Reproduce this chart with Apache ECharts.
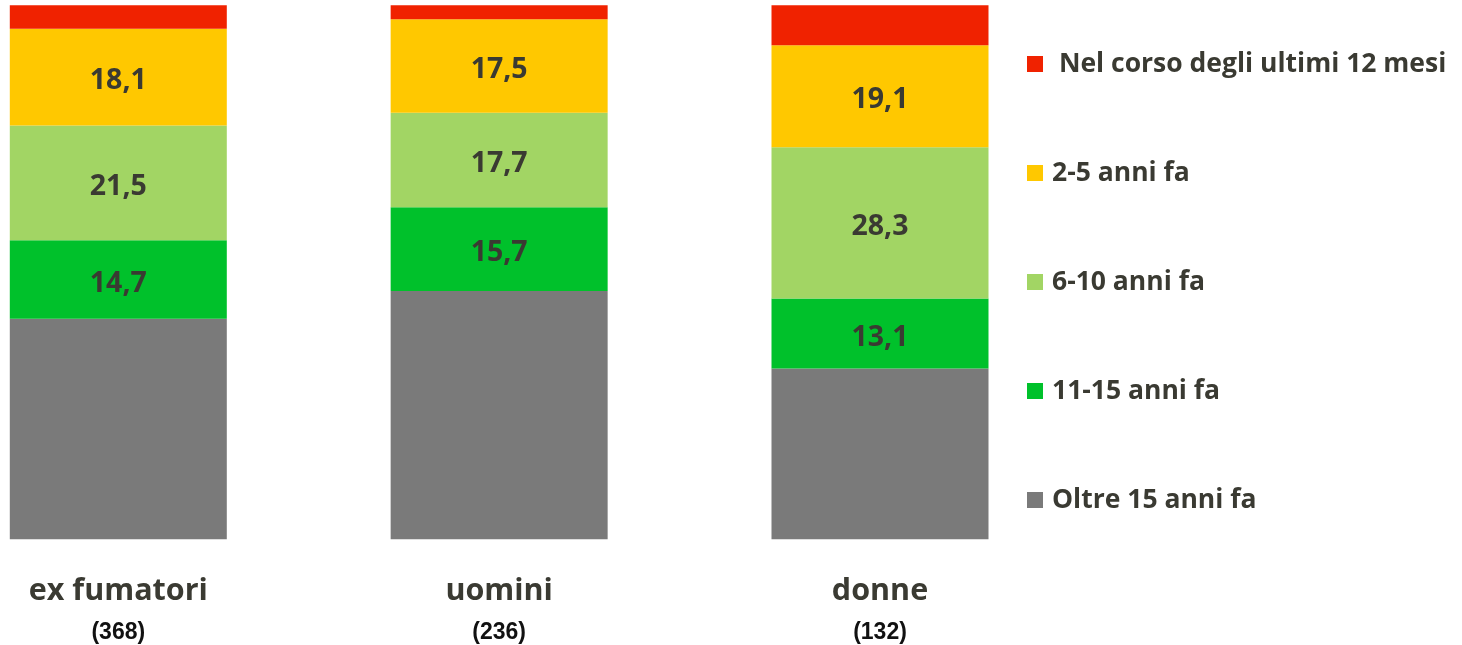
<!DOCTYPE html>
<html>
<head>
<meta charset="utf-8">
<script src="https://cdn.jsdelivr.net/npm/echarts@6/dist/echarts.min.js"></script>
<style>
html,body{margin:0;padding:0;background:#fff;}
#chart{width:1462px;height:645px;}
</style>
</head>
<body>
<div id="chart"></div>
<script>
const categories = ['ex fumatori', 'uomini', 'donne'];
const sampleSizes = ['(368)', '(236)', '(132)'];
const seriesNames = ['Oltre 15 anni fa', '11-15 anni fa', '6-10 anni fa', '2-5 anni fa', 'Nel corso degli ultimi 12 mesi'];
const oltre15 = [41.3, 46.5, 32.0];
const anni11_15 = [14.7, 15.7, 13.1];
const anni6_10 = [21.5, 17.7, 28.3];
const anni2_5 = [18.1, 17.5, 19.1];
const ultimi12 = [4.4, 2.6, 7.5];

const seriesData = [oltre15, anni11_15, anni6_10, anni2_5, ultimi12];
const colors = ['#7a7a7a', '#00c12b', '#a2d564', '#ffc800', '#f02200'];
const showLabel = [false, true, true, true, false];

const chart = echarts.init(document.getElementById('chart'));
const textColor = '#3a3a32';

const option = {
  animation: false,
  grid: { left: 118.3, width: 761.7, top: 5.3, height: 534 },
  legend: {
    orient: 'vertical',
    left: 1027,
    top: 49,
    padding: 0,
    itemWidth: 16,
    itemHeight: 16,
    itemGap: 79,
    icon: 'rect',
    data: seriesNames.slice().reverse(),
    formatter: function (name) { return name === seriesNames[4] ? ' ' + name : name; },
    textStyle: {
      fontFamily: 'Open Sans',
      fontWeight: 'bold',
      fontSize: 26.5,
      lineHeight: 30,
      color: textColor,
      padding: [0, 0, 0, 4]
    }
  },
  xAxis: {
    type: 'category',
    data: categories,
    boundaryGap: false,
    axisLine: { show: false },
    axisTick: { show: false },
    splitLine: { show: false },
    axisLabel: {
      margin: 31,
      interval: 0,
      formatter: function (v, i) { return '{a|' + v + '}\n{b|' + sampleSizes[i] + '}'; },
      rich: {
        a: { fontFamily: 'Open Sans', fontWeight: 'bold', fontSize: 30.5, lineHeight: 42, color: textColor },
        b: { fontFamily: 'Liberation Sans', fontWeight: 'bold', fontSize: 23, lineHeight: 41, color: '#111' }
      }
    }
  },
  yAxis: {
    type: 'value',
    min: 0,
    max: 100,
    show: false,
    splitLine: { show: false }
  },
  series: seriesNames.map(function (name, k) {
    return {
      name: name,
      type: 'bar',
      stack: 'total',
      barWidth: 217,
      clip: false,
      data: seriesData[k],
      itemStyle: { color: colors[k] },
      label: {
        show: showLabel[k],
        position: 'inside',
        offset: [0, 4],
        fontFamily: 'Open Sans',
        fontWeight: 'bold',
        fontSize: 28.5,
        color: textColor,
        formatter: function (p) { return p.value.toFixed(1).replace('.', ','); }
      }
    };
  })
};
chart.setOption(option);
</script>
</body>
</html>
